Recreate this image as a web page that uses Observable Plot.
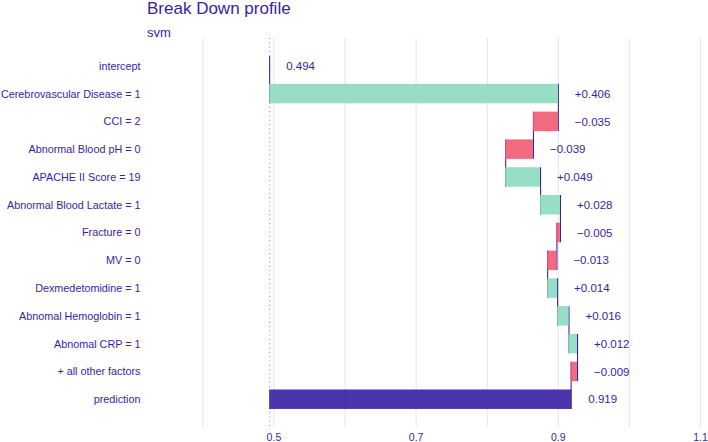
<!DOCTYPE html>
<html><head><meta charset="utf-8">
<script src="https://cdn.jsdelivr.net/npm/d3@7"></script>
<script src="https://cdn.jsdelivr.net/npm/@observablehq/plot@0.6"></script>
<style>
body{margin:0;background:#fff;font-family:"Liberation Sans",Arial,sans-serif;}
#head{position:relative;height:38px;width:708px;color:#371ea3;}
#title{position:absolute;left:147px;top:0px;font-size:17px;line-height:17px;white-space:nowrap;}
#sub{position:absolute;left:147px;top:26px;font-size:13px;line-height:13px;white-space:nowrap;}
</style></head><body>
<div id="head"><div id="title"></div><div id="sub"></div></div>
<div id="chart"></div>
<script>
const titleText = "Break Down profile";
const modelLabel = "svm";
const variables = [
  "intercept",
  "Cerebrovascular Disease = 1",
  "CCI = 2",
  "Abnormal Blood pH = 0",
  "APACHE II Score = 19",
  "Abnormal Blood Lactate = 1",
  "Fracture = 0",
  "MV = 0",
  "Dexmedetomidine = 1",
  "Abnomal Hemoglobin = 1",
  "Abnomal CRP = 1",
  "+ all other factors",
  "prediction"
];
const contributions = [0.494, 0.406, -0.035, -0.039, 0.049, 0.028, -0.005, -0.013, 0.014, 0.016, 0.012, -0.009, 0.919];
const xTicks = [0.5, 0.7, 0.9, 1.1];
const gridTicks = [0.4, 0.5, 0.6, 0.7, 0.8, 0.9, 1.0, 1.1];

document.getElementById("title").textContent = titleText;
document.getElementById("sub").textContent = modelLabel;

const n = variables.length;
const intercept = contributions[0];
let cum = intercept;
const rows = variables.map((v, i) => {
  const c = contributions[i];
  let prev, cur, sign, label;
  if (i === 0) { prev = intercept; cur = intercept; sign = "pred"; label = c.toFixed(3); }
  else if (i === n - 1) { prev = intercept; cur = c; sign = "pred"; label = c.toFixed(3); }
  else { prev = cum; cum = cum + c; cur = cum; sign = c >= 0 ? "pos" : "neg"; label = (c >= 0 ? "+" : "\u2212") + Math.abs(c).toFixed(3); }
  return {variable: v, idx: i + 1, prev, cum: cur, sign, label, last: i === n - 1, first: i === 0};
});

const purple = "#371ea3";
const chart = Plot.plot({
  width: 708,
  height: 404,
  marginLeft: 147,
  marginRight: 2,
  marginTop: 0,
  marginBottom: 15,
  style: {fontFamily: "Liberation Sans, Arial, sans-serif", color: purple, background: "#fff"},
  x: {domain: [0.3222, 1.1084]},
  y: {domain: [n + 1, 0]},
  color: {domain: ["pos", "neg", "pred"], range: ["#8bdcbe", "#f05a71", purple]},
  marks: [
    Plot.gridX(gridTicks, {stroke: "#e5e5e5", strokeOpacity: 1, strokeWidth: 1}),
    Plot.ruleX([intercept], {stroke: purple, strokeOpacity: 0.5, strokeWidth: 1.07, strokeDasharray: "1.1,3.2"}),
    Plot.ruleX(rows.filter(d => !d.last), {x: "cum", y1: d => d.idx - 0.35, y2: d => d.idx + 1.35, stroke: purple, strokeWidth: 1.07}),
    Plot.rect(rows.filter(d => !d.first), {x1: "prev", x2: "cum", y1: d => d.idx - 0.35, y2: d => d.idx + 0.35, fill: "sign", fillOpacity: 0.9}),
    Plot.text(rows, {x: d => Math.max(d.prev, d.cum), y: "idx", text: "label", dx: 16.5, textAnchor: "start", fill: purple, fontSize: 11.5}),
    Plot.axisY(rows.map(d => d.idx), {tickFormat: i => variables[i - 1], tickSize: 0, tickPadding: 7, fontSize: 10.8, label: null}),
    Plot.axisX(xTicks, {tickFormat: d3.format(".1f"), tickSize: 0, tickPadding: 6, fontSize: 10.5, label: null})
  ]
});
document.getElementById("chart").appendChild(chart);
</script>
</body></html>
